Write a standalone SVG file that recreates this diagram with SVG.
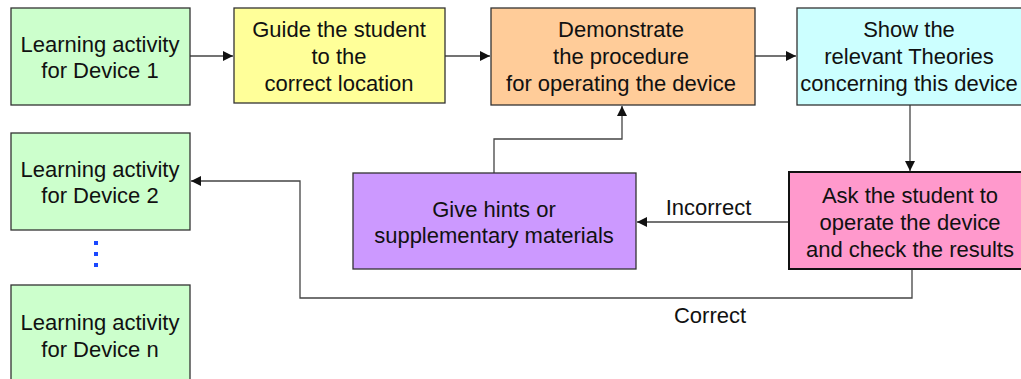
<svg xmlns="http://www.w3.org/2000/svg" width="1021" height="379" viewBox="0 0 1021 379">
  <style>
    .box { stroke: #333333; stroke-width: 1.3; }
    .strong { stroke: #111111; stroke-width: 2; }
    .lbl { font-family: "Liberation Sans", Arial, sans-serif; font-size: 22px; fill: #111111; text-anchor: middle; }
    .edge { fill: none; stroke: #444444; stroke-width: 1.3; }
    .dot { fill: #1a47ff; }
  </style>
  <defs>
    <marker id="arrow" viewBox="0 0 10 10" refX="10" refY="5" markerWidth="10" markerHeight="10" markerUnits="userSpaceOnUse" orient="auto">
      <path d="M0,0 L10,5 L0,10 z" fill="#111111"/>
    </marker>
  </defs>

  <rect width="1021" height="379" fill="#ffffff"/>

  <!-- connectors -->
  <g id="connectors">
    <line class="edge" x1="190" y1="56" x2="233" y2="56" marker-end="url(#arrow)"/>
    <line class="edge" x1="445" y1="56" x2="490" y2="56" marker-end="url(#arrow)"/>
    <line class="edge" x1="755" y1="56" x2="796" y2="56" marker-end="url(#arrow)"/>
    <line class="edge" x1="910" y1="105" x2="910" y2="171" marker-end="url(#arrow)"/>
    <line class="edge" x1="789" y1="222" x2="637" y2="222" marker-end="url(#arrow)"/>
    <polyline class="edge" points="494,173 494,139 622,139 622,106" marker-end="url(#arrow)"/>
    <polyline class="edge" points="912,269 912,298 300,298 300,181 191,181" marker-end="url(#arrow)"/>
    <text class="lbl" x="708.5" y="215">Incorrect</text>
    <text class="lbl" x="710" y="323">Correct</text>
  </g>

  <g id="device1">
    <rect class="box" x="11" y="8" width="179" height="97" fill="#ccffcc"/>
    <text class="lbl" x="100" y="52">Learning activity</text>
    <text class="lbl" x="100" y="78">for Device 1</text>
  </g>

  <g id="guide">
    <rect class="box" x="234" y="8" width="211" height="95" fill="#ffff99"/>
    <text class="lbl" x="339" y="37">Guide the student</text>
    <text class="lbl" x="339" y="64">to the</text>
    <text class="lbl" x="339" y="91">correct location</text>
  </g>

  <g id="demonstrate">
    <rect class="box" x="491" y="8" width="264" height="97" fill="#ffcc99"/>
    <text class="lbl" x="621" y="37">Demonstrate</text>
    <text class="lbl" x="621" y="64">the procedure</text>
    <text class="lbl" x="621" y="91">for operating the device</text>
  </g>

  <g id="theories">
    <rect class="box" x="797" y="8" width="230" height="97" fill="#ccffff"/>
    <text class="lbl" x="909" y="37">Show the</text>
    <text class="lbl" x="909" y="64">relevant Theories</text>
    <text class="lbl" x="909" y="91">concerning this device</text>
  </g>

  <g id="check">
    <rect class="strong" x="789" y="172" width="240" height="97" fill="#ff99cc"/>
    <text class="lbl" x="910" y="203">Ask the student to</text>
    <text class="lbl" x="910" y="230">operate the device</text>
    <text class="lbl" x="910" y="257">and check the results</text>
  </g>

  <g id="hints">
    <rect class="box" x="353" y="173" width="283" height="96" fill="#cc99ff"/>
    <text class="lbl" x="494" y="217">Give hints or</text>
    <text class="lbl" x="494" y="243">supplementary materials</text>
  </g>

  <g id="device2">
    <rect class="box" x="11" y="133" width="179" height="97" fill="#ccffcc"/>
    <text class="lbl" x="100" y="177">Learning activity</text>
    <text class="lbl" x="100" y="203">for Device 2</text>
  </g>

  <g id="ellipsis">
    <rect class="dot" x="94" y="241" width="4" height="4"/>
    <rect class="dot" x="94" y="252" width="4" height="4"/>
    <rect class="dot" x="94" y="263" width="4" height="4"/>
  </g>

  <g id="deviceN">
    <rect class="box" x="11" y="285" width="179" height="100" fill="#ccffcc"/>
    <text class="lbl" x="100" y="330">Learning activity</text>
    <text class="lbl" x="100" y="357">for Device n</text>
  </g>
</svg>
